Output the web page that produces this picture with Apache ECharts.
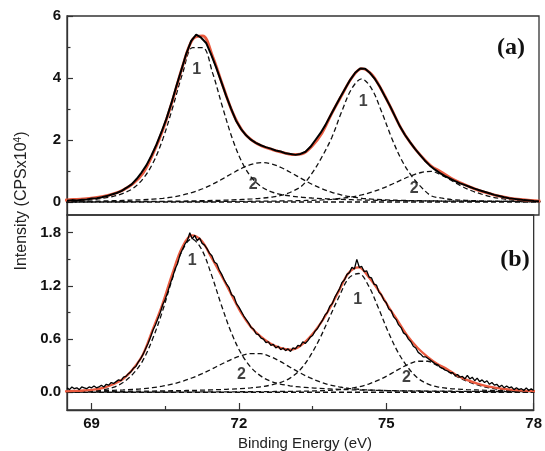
<!DOCTYPE html>
<html><head><meta charset="utf-8">
<script src="https://cdn.jsdelivr.net/npm/echarts@6/dist/echarts.min.js"></script>
<style>html,body{margin:0;padding:0;background:#fff}#c{width:545px;height:451px}</style>
</head><body><div id="c"></div>
<script>
// ---------- panel (a) ----------
const compEnergyA = [68.43,68.63,68.83,69.03,69.23,69.43,69.63,69.83,70.03,70.23,70.43,70.63,70.83,71.03,71.23,71.43,71.63,71.83,72.03,72.23,72.43,72.63,72.83,73.03,73.23,73.43,73.63,73.83,74.03,74.23,74.43,74.63,74.83,75.03,75.23,75.43,75.63,75.83,76.03,76.23,76.43,76.63,76.83,77.03,77.23,77.43,77.63,77.83,78.03];
const peak1A_low = [0.03,0.04,0.055,0.08,0.12,0.18,0.28,0.44,0.75,1.257,2.035,3.064,4.166,4.98,4.98,4.166,3.064,2.035,1.257,0.758,0.472,0.318,0.235,0.186,0.153,0.128,0.110,0.095,0.083,0.073,0.065,0.058,0.052,0.046,0.042,0.038,0.035,0.032,0.030,0.027,0.025,0.024,0.022,0.021,0.019,0.018,0.017,0.016,0.015];
const peak2A_low = [0.012,0.015,0.019,0.024,0.031,0.040,0.051,0.061,0.072,0.091,0.119,0.161,0.224,0.310,0.427,0.573,0.745,0.927,1.097,1.223,1.270,1.223,1.097,0.927,0.745,0.573,0.427,0.310,0.224,0.161,0.119,0.091,0.072,0.061,0.051,0.044,0.039,0.035,0.031,0.028,0.026,0.023,0.022,0.020,0.018,0.017,0.015,0.014,0.013];
const peak1A_high = [0.005,0.006,0.007,0.008,0.009,0.010,0.012,0.014,0.016,0.019,0.022,0.026,0.030,0.035,0.041,0.048,0.057,0.068,0.082,0.100,0.125,0.160,0.220,0.337,0.524,0.920,1.450,2.083,2.921,3.655,3.970,3.655,2.921,2.083,1.369,0.850,0.480,0.200,0.130,0.080,0.060,0.045,0.035,0.028,0.022,0.018,0.015,0.012,0.010];
const peak2A_high = [0.006,0.006,0.007,0.007,0.007,0.008,0.008,0.009,0.009,0.010,0.011,0.012,0.012,0.013,0.015,0.016,0.017,0.019,0.021,0.023,0.026,0.029,0.033,0.038,0.045,0.053,0.066,0.086,0.117,0.162,0.227,0.316,0.429,0.565,0.711,0.848,0.951,0.990,0.870,0.700,0.520,0.370,0.260,0.170,0.110,0.070,0.045,0.030,0.020];
const fitA = [0.06,0.08,0.10,0.13,0.18,0.26,0.39,0.59,0.93,1.55,2.33,3.31,4.40,5.25,5.36,4.70,3.78,2.90,2.30,1.98,1.80,1.69,1.60,1.53,1.55,1.80,2.22,2.86,3.44,4.00,4.30,4.12,3.62,3.00,2.36,1.87,1.48,1.16,0.97,0.77,0.61,0.47,0.35,0.26,0.18,0.12,0.08,0.05,0.03];
const exptEnergyA = [68.5,68.6,68.7,68.8,68.9,69.0,69.1,69.2,69.3,69.4,69.5,69.6,69.7,69.8,69.9,70.0,70.1,70.2,70.3,70.4,70.5,70.6,70.7,70.8,70.9,71.0,71.1,71.2,71.3,71.4,71.5,71.6,71.7,71.8,71.9,72.0,72.1,72.2,72.3,72.4,72.5,72.6,72.7,72.8,72.9,73.0,73.1,73.2,73.3,73.4,73.5,73.6,73.7,73.8,73.9,74.0,74.1,74.2,74.3,74.4,74.5,74.6,74.7,74.8,74.9,75.0,75.1,75.2,75.3,75.4,75.5,75.6,75.7,75.8,75.9,76.0,76.1,76.2,76.3,76.4,76.5,76.6,76.7,76.8,76.9,77.0,77.1,77.2,77.3,77.4,77.5,77.6,77.7,77.8,77.9,78.0];
const exptA = [0.04,0.06,0.05,0.07,0.08,0.11,0.12,0.15,0.19,0.24,0.29,0.36,0.46,0.57,0.74,0.95,1.19,1.50,1.85,2.25,2.68,3.18,3.73,4.25,4.78,5.20,5.40,5.30,5.13,4.76,4.35,3.90,3.44,3.02,2.63,2.36,2.16,2.01,1.91,1.83,1.77,1.72,1.66,1.63,1.57,1.55,1.52,1.55,1.62,1.78,2.00,2.22,2.48,2.78,3.08,3.38,3.66,3.94,4.17,4.31,4.30,4.16,3.96,3.71,3.40,3.10,2.77,2.44,2.17,1.94,1.72,1.53,1.34,1.18,1.05,0.94,0.84,0.76,0.68,0.61,0.55,0.49,0.43,0.38,0.33,0.28,0.23,0.19,0.15,0.12,0.10,0.08,0.06,0.05,0.03,0.02];

// ---------- panel (b) ----------
const compEnergyB = [68.44,68.64,68.84,69.04,69.24,69.44,69.64,69.84,70.04,70.24,70.44,70.64,70.84,71.04,71.24,71.44,71.64,71.84,72.04,72.24,72.44,72.64,72.84,73.04,73.24,73.44,73.64,73.84,74.04,74.24,74.44,74.64,74.84,75.04,75.24,75.44,75.64,75.84,76.04,76.24,76.44,76.64,76.84,77.04,77.24,77.44,77.64,77.84,78.04];
const peak1B_low = [0.005,0.007,0.010,0.016,0.028,0.055,0.110,0.205,0.355,0.597,0.908,1.273,1.593,1.730,1.612,1.327,0.988,0.680,0.443,0.284,0.185,0.126,0.093,0.073,0.060,0.051,0.044,0.038,0.033,0.029,0.026,0.024,0.021,0.019,0.017,0.016,0.015,0.014,0.012,0.012,0.011,0.010,0.010,0.009,0.009,0.008,0.008,0.007,0.007];
const peak2B_low = [0.012,0.013,0.015,0.017,0.019,0.022,0.026,0.032,0.040,0.052,0.069,0.092,0.122,0.161,0.207,0.260,0.316,0.369,0.412,0.436,0.436,0.403,0.348,0.283,0.220,0.165,0.119,0.085,0.061,0.044,0.034,0.026,0.022,0.018,0.016,0.014,0.012,0.011,0.010,0.009,0.008,0.008,0.007,0.007,0.006,0.006,0.006,0.005,0.005];
const peak1B_high = [0.007,0.008,0.008,0.009,0.009,0.010,0.011,0.012,0.013,0.014,0.015,0.017,0.019,0.021,0.024,0.027,0.031,0.036,0.042,0.050,0.062,0.080,0.110,0.160,0.250,0.400,0.600,0.840,1.080,1.290,1.340,1.200,0.950,0.680,0.450,0.280,0.160,0.095,0.062,0.045,0.036,0.030,0.026,0.022,0.019,0.017,0.015,0.013,0.012];
const peak2B_high = [0.002,0.002,0.002,0.002,0.003,0.003,0.003,0.003,0.003,0.003,0.003,0.003,0.004,0.004,0.004,0.004,0.005,0.005,0.006,0.006,0.007,0.008,0.009,0.010,0.012,0.014,0.017,0.022,0.029,0.042,0.062,0.093,0.137,0.192,0.255,0.313,0.350,0.350,0.300,0.240,0.175,0.125,0.085,0.055,0.037,0.025,0.018,0.013,0.010];
const fitB = [0.01,0.015,0.02,0.03,0.05,0.09,0.15,0.26,0.42,0.70,0.99,1.33,1.63,1.77,1.71,1.52,1.32,1.11,0.90,0.74,0.63,0.55,0.50,0.48,0.52,0.62,0.76,0.94,1.15,1.35,1.41,1.30,1.15,0.97,0.80,0.63,0.50,0.40,0.32,0.26,0.19,0.14,0.10,0.07,0.05,0.035,0.025,0.018,0.012];
const exptEnergyB = [68.5,68.55,68.6,68.65,68.7,68.75,68.8,68.85,68.9,68.95,69,69.05,69.1,69.15,69.2,69.25,69.3,69.35,69.4,69.45,69.5,69.55,69.6,69.65,69.7,69.75,69.8,69.85,69.9,69.95,70,70.05,70.1,70.15,70.2,70.25,70.3,70.35,70.4,70.45,70.5,70.55,70.6,70.65,70.7,70.75,70.8,70.85,70.9,70.95,71,71.05,71.1,71.15,71.2,71.25,71.3,71.35,71.4,71.45,71.5,71.55,71.6,71.65,71.7,71.75,71.8,71.85,71.9,71.95,72,72.05,72.1,72.15,72.2,72.25,72.3,72.35,72.4,72.45,72.5,72.55,72.6,72.65,72.7,72.75,72.8,72.85,72.9,72.95,73,73.05,73.1,73.15,73.2,73.25,73.3,73.35,73.4,73.45,73.5,73.55,73.6,73.65,73.7,73.75,73.8,73.85,73.9,73.95,74,74.05,74.1,74.15,74.2,74.25,74.3,74.35,74.4,74.45,74.5,74.55,74.6,74.65,74.7,74.75,74.8,74.85,74.9,74.95,75,75.05,75.1,75.15,75.2,75.25,75.3,75.35,75.4,75.45,75.5,75.55,75.6,75.65,75.7,75.75,75.8,75.85,75.9,75.95,76,76.05,76.1,76.15,76.2,76.25,76.3,76.35,76.4,76.45,76.5,76.55,76.6,76.65,76.7,76.75,76.8,76.85,76.9,76.95,77,77.05,77.1,77.15,77.2,77.25,77.3,77.35,77.4,77.45,77.5,77.55,77.6,77.65,77.7,77.75,77.8,77.85,77.9,77.95,78];
const exptB = [0.05,0.03,0.06,0.04,0.05,0.03,0.06,0.05,0.04,0.06,
0.05,0.07,0.05,0.06,0.08,0.06,0.09,0.08,0.11,0.10,
0.12,0.14,0.13,0.17,0.18,0.21,0.23,0.27,0.29,0.34,
0.38,0.43,0.49,0.55,0.62,0.70,0.76,0.83,0.90,0.99,
1.05,1.13,1.22,1.30,1.39,1.45,1.55,1.61,1.67,1.71,
1.80,1.73,1.77,1.71,1.74,1.68,1.66,1.62,1.57,1.54,
1.47,1.45,1.38,1.33,1.27,1.22,1.18,1.10,1.08,1.00,
0.96,0.91,0.86,0.82,0.78,0.73,0.71,0.66,0.65,0.61,
0.60,0.56,0.57,0.53,0.54,0.50,0.52,0.48,0.50,0.47,
0.49,0.46,0.50,0.49,0.53,0.52,0.57,0.55,0.58,0.62,
0.64,0.69,0.72,0.77,0.81,0.87,0.90,0.97,1.00,1.07,
1.12,1.17,1.24,1.27,1.33,1.35,1.41,1.39,1.50,1.41,
1.42,1.36,1.37,1.30,1.29,1.22,1.21,1.13,1.10,1.04,
1.01,0.94,0.92,0.85,0.82,0.76,0.73,0.67,0.65,0.60,
0.57,0.52,0.50,0.45,0.43,0.40,0.40,0.38,0.36,0.34,
0.32,0.31,0.28,0.27,0.25,0.24,0.22,0.22,0.19,0.20,
0.17,0.18,0.15,0.19,0.15,0.17,0.13,0.16,0.12,0.14,
0.11,0.13,0.09,0.11,0.08,0.09,0.06,0.08,0.05,0.07,
0.05,0.06,0.03,0.05,0.03,0.04,0.02,0.05,0.02,0.04,
0.02];

// baselines and peak labels
const baseEnergy = [68.5, 78];
const baseLevel = [0, 0];
const peakLabelText = ['1', '1', '2', '2'];
const peakLabelEA = [71.11, 74.46, 72.25, 75.49];
const peakLabelIA = [4.26, 3.23, 0.55, 0.42];
const peakLabelEB = [71.05, 74.42, 72.05, 75.41];
const peakLabelIB = [1.49, 1.04, 0.20, 0.165];

const xTicks = [69, 72, 75, 78];
const xMinor = [70.5, 73.5, 76.5];
const yTicksA = [0, 2, 4, 6];
const yMinorA = [1, 3, 5];
const yTicksB = [0, 0.6, 1.2, 1.8];
const yMinorB = [0.3, 0.9, 1.5];

function pairs(xs, ys) { return xs.map((x, i) => [x, ys[i]]); }

const FRAME = '#333';
const RED = '#ea5b40';
const DASH = { color: '#111', width: 1.3, type: [5, 3] };

function comp(ix, xs, ys) {
  return { type: 'line', xAxisIndex: ix, yAxisIndex: ix * 2, data: pairs(xs, ys), showSymbol: false, symbol: 'none',
    smooth: 0.35, lineStyle: DASH, z: 2, silent: true };
}
function labels(ix, xs, ys) {
  return { type: 'scatter', xAxisIndex: ix, yAxisIndex: ix * 2, symbolSize: 1,
    itemStyle: { color: 'rgba(0,0,0,0)' }, z: 6, silent: true,
    data: xs.map((x, i) => ({ value: [x, ys[i]], name: peakLabelText[i] })),
    label: { show: true, position: 'inside', formatter: p => p.name, color: '#111',
      fontFamily: '"Liberation Sans", Arial, sans-serif', fontWeight: 'bold', fontSize: 16 } };
}

const labelFont = { fontFamily: '"Liberation Sans", Arial, sans-serif', fontWeight: 'bold', fontSize: 15, color: '#111' };

const option = {
  animation: false,
  backgroundColor: '#fff',
  grid: [
    { left: 67, top: 16, width: 472, height: 199, show: true, borderColor: FRAME, borderWidth: 1.3, backgroundColor: 'transparent' },
    { left: 67, top: 215, width: 472, height: 195, show: true, borderColor: FRAME, borderWidth: 1.3, backgroundColor: 'transparent' }
  ],
  xAxis: [
    { type: 'value', gridIndex: 0, min: 68.5, max: 78, axisLine: { show: false }, axisTick: { show: false },
      axisLabel: { show: false }, splitLine: { show: false } },
    { type: 'value', gridIndex: 1, min: 68.5, max: 78, position: 'bottom',
      axisLine: { show: true, onZero: false, lineStyle: { color: FRAME, width: 1.3 } },
      axisTick: { show: true, inside: true, length: 7, customValues: xTicks, lineStyle: { color: FRAME, width: 1.2 } },
      axisLabel: Object.assign({ show: true, margin: 6, customValues: xTicks, formatter: v => String(v) }, labelFont),
      splitLine: { show: false } },
    { type: 'value', gridIndex: 1, min: 68.5, max: 78, position: 'bottom',
      axisLine: { show: false, onZero: false },
      axisTick: { show: true, inside: true, length: 4, customValues: xMinor, lineStyle: { color: FRAME, width: 1.2 } },
      axisLabel: { show: false }, splitLine: { show: false } }
  ],
  yAxis: [
    { type: 'value', gridIndex: 0, min: -0.42, max: 6, position: 'left',
      axisLine: { show: true, onZero: false, lineStyle: { color: FRAME, width: 1.3 } },
      axisTick: { show: true, inside: true, length: 6, customValues: yTicksA, lineStyle: { color: FRAME, width: 1.2 } },
      axisLabel: Object.assign({ show: true, margin: 6, customValues: yTicksA, formatter: v => String(v) }, labelFont),
      splitLine: { show: false } },
    { type: 'value', gridIndex: 0, min: -0.42, max: 6, position: 'left', offset: 0,
      axisLine: { show: false, onZero: false },
      axisTick: { show: true, inside: true, length: 3.5, customValues: yMinorA, lineStyle: { color: FRAME, width: 1.2 } },
      axisLabel: { show: false }, splitLine: { show: false } },
    { type: 'value', gridIndex: 1, min: -0.2, max: 2.0, position: 'left',
      axisLine: { show: true, onZero: false, lineStyle: { color: FRAME, width: 1.3 } },
      axisTick: { show: true, inside: true, length: 6, customValues: yTicksB, lineStyle: { color: FRAME, width: 1.2 } },
      axisLabel: Object.assign({ show: true, margin: 6, customValues: yTicksB, formatter: v => v.toFixed(1) }, labelFont),
      splitLine: { show: false } },
    { type: 'value', gridIndex: 1, min: -0.2, max: 2.0, position: 'left', offset: 0,
      axisLine: { show: false, onZero: false },
      axisTick: { show: true, inside: true, length: 3.5, customValues: yMinorB, lineStyle: { color: FRAME, width: 1.2 } },
      axisLabel: { show: false }, splitLine: { show: false } }
  ],
  series: [
    // panel (a)
    { type: 'line', xAxisIndex: 0, yAxisIndex: 0, data: pairs(baseEnergy, baseLevel), symbol: 'none', lineStyle: DASH, z: 2, silent: true },
    comp(0, compEnergyA, peak1A_low),
    comp(0, compEnergyA, peak2A_low),
    comp(0, compEnergyA, peak1A_high),
    comp(0, compEnergyA, peak2A_high),
    { type: 'line', xAxisIndex: 0, yAxisIndex: 0, data: pairs(compEnergyA, fitA), symbol: 'none', smooth: 0.35,
      lineStyle: { color: RED, width: 2.8 }, z: 3, silent: true },
    { type: 'line', xAxisIndex: 0, yAxisIndex: 0, data: pairs(exptEnergyA, exptA), symbol: 'none',
      lineStyle: { color: '#000', width: 2 }, z: 4, silent: true },
    labels(0, peakLabelEA, peakLabelIA),
    // panel (b)
    { type: 'line', xAxisIndex: 1, yAxisIndex: 2, data: pairs(baseEnergy, baseLevel), symbol: 'none', lineStyle: DASH, z: 2, silent: true },
    comp(1, compEnergyB, peak1B_low),
    comp(1, compEnergyB, peak2B_low),
    comp(1, compEnergyB, peak1B_high),
    comp(1, compEnergyB, peak2B_high),
    { type: 'line', xAxisIndex: 1, yAxisIndex: 2, data: pairs(compEnergyB, fitB), symbol: 'none', smooth: 0.35,
      lineStyle: { color: RED, width: 2.3 }, z: 3, silent: true },
    { type: 'line', xAxisIndex: 1, yAxisIndex: 2, data: pairs(exptEnergyB, exptB), symbol: 'none',
      lineStyle: { color: '#000', width: 1.3 }, z: 4, silent: true },
    labels(1, peakLabelEB, peakLabelIB)
  ],
  graphic: [
    { type: 'text', x: 511, y: 48, z: 10, style: { text: '(a)', font: 'bold 24px "Liberation Serif", "Times New Roman", serif',
      fill: '#111', textAlign: 'center', textVerticalAlign: 'middle' } },
    { type: 'text', x: 515, y: 260, z: 10, style: { text: '(b)', font: 'bold 24px "Liberation Serif", "Times New Roman", serif',
      fill: '#111', textAlign: 'center', textVerticalAlign: 'middle' } },
    { type: 'text', x: 305, y: 444, z: 10, style: { text: 'Binding Energy (eV)', font: '15px "Liberation Sans", Arial, sans-serif',
      fill: '#222', textAlign: 'center', textVerticalAlign: 'middle' } },
    { type: 'text', x: 22, y: 201, rotation: Math.PI / 2, z: 10, style: {
      text: 'Intensity (CPSx10{s|4})', font: '16px "Liberation Sans", Arial, sans-serif', fill: '#222',
      textAlign: 'center', textVerticalAlign: 'middle',
      rich: { s: { fontSize: 10, fontFamily: '"Liberation Sans", Arial, sans-serif', fill: '#222', padding: [0, 0, 8, 0] } } } }
  ]
};

const chart = echarts.init(document.getElementById('c'), null, { renderer: 'canvas', width: 545, height: 451 });
chart.setOption(option);
</script>
</body></html>
